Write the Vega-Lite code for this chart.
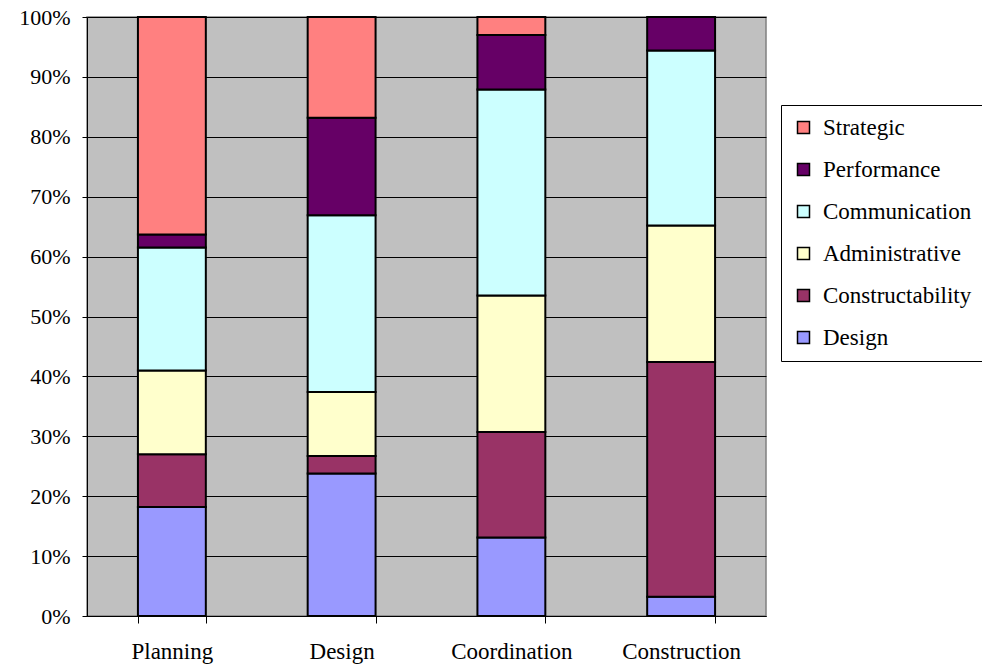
{
  "$schema": "https://vega.github.io/schema/vega-lite/v6.json",
  "width": 679,
  "height": 599,
  "autosize": {"type": "none"},
  "padding": {"left": 87, "top": 17, "right": 216, "bottom": 52},
  "background": "white",
  "config": {
    "font": "Liberation Serif",
    "view": {"fill": "#C0C0C0", "stroke": "#808080", "strokeWidth": 1.5},
    "axis": {"labelFont": "Liberation Serif", "labelColor": "black", "domainColor": "black", "tickColor": "black"}
  },
  "data": {
    "values": [
      {"stage": "Planning", "series": "Design", "pct": 18.2},
      {"stage": "Planning", "series": "Constructability", "pct": 8.8},
      {"stage": "Planning", "series": "Administrative", "pct": 14.0},
      {"stage": "Planning", "series": "Communication", "pct": 20.5},
      {"stage": "Planning", "series": "Performance", "pct": 2.2},
      {"stage": "Planning", "series": "Strategic", "pct": 36.3},
      {"stage": "Design", "series": "Design", "pct": 23.8},
      {"stage": "Design", "series": "Constructability", "pct": 2.9},
      {"stage": "Design", "series": "Administrative", "pct": 10.7},
      {"stage": "Design", "series": "Communication", "pct": 29.5},
      {"stage": "Design", "series": "Performance", "pct": 16.3},
      {"stage": "Design", "series": "Strategic", "pct": 16.8},
      {"stage": "Coordination", "series": "Design", "pct": 13.1},
      {"stage": "Coordination", "series": "Constructability", "pct": 17.6},
      {"stage": "Coordination", "series": "Administrative", "pct": 22.8},
      {"stage": "Coordination", "series": "Communication", "pct": 34.4},
      {"stage": "Coordination", "series": "Performance", "pct": 9.1},
      {"stage": "Coordination", "series": "Strategic", "pct": 3.0},
      {"stage": "Construction", "series": "Design", "pct": 3.2},
      {"stage": "Construction", "series": "Constructability", "pct": 39.2},
      {"stage": "Construction", "series": "Administrative", "pct": 22.8},
      {"stage": "Construction", "series": "Communication", "pct": 29.2},
      {"stage": "Construction", "series": "Performance", "pct": 5.6},
      {"stage": "Construction", "series": "Strategic", "pct": 0}
    ]
  },
  "transform": [
    {"calculate": "indexof(['Design','Constructability','Administrative','Communication','Performance','Strategic'], datum.series)", "as": "stackOrder"}
  ],
  "mark": {"type": "bar", "stroke": "black", "strokeWidth": 2},
  "encoding": {
    "x": {
      "field": "stage",
      "type": "nominal",
      "sort": ["Planning", "Design", "Coordination", "Construction"],
      "scale": {"paddingInner": 0.6, "paddingOuter": 0.3},
      "axis": {
        "title": null,
        "labelAngle": 0,
        "labelFontSize": 23,
        "tickBand": "extent",
        "tickSize": 7,
        "labelPadding": 17,
        "domainColor": "black"
      }
    },
    "y": {
      "field": "pct",
      "type": "quantitative",
      "stack": "zero",
      "scale": {"domain": [0, 100], "nice": false},
      "axis": {
        "title": null,
        "values": [0, 10, 20, 30, 40, 50, 60, 70, 80, 90, 100],
        "labelExpr": "datum.value + '%'",
        "labelFontSize": 22,
        "tickSize": 5,
        "labelPadding": 12,
        "grid": true,
        "gridColor": "black",
        "gridWidth": 1,
        "gridOpacity": 1
      }
    },
    "order": {"field": "stackOrder", "type": "quantitative", "sort": "ascending"},
    "color": {
      "field": "series",
      "type": "nominal",
      "scale": {
        "domain": ["Strategic", "Performance", "Communication", "Administrative", "Constructability", "Design"],
        "range": ["#FF8080", "#660066", "#CCFFFF", "#FFFFCC", "#993366", "#9999FF"]
      },
      "legend": {
        "title": null,
        "orient": "none",
        "legendX": 694,
        "legendY": 88,
        "symbolType": "square",
        "symbolSize": 144,
        "symbolStrokeColor": "black",
        "symbolStrokeWidth": 1.5,
        "symbolOpacity": 1,
        "labelFontSize": 23,
        "labelColor": "black",
        "labelFont": "Liberation Serif",
        "rowPadding": 18,
        "labelOffset": 8,
        "padding": 11,
        "strokeColor": "black",
        "fillColor": "white",
        "labelLimit": 300
      }
    }
  }
}
